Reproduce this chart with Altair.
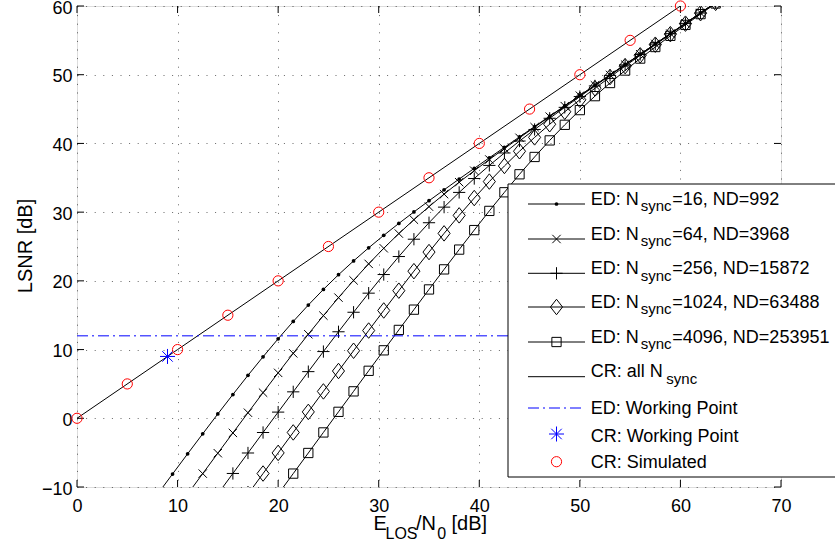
import altair as alt
import pandas as pd

# ---------------- data ----------------
e_los_grid = [8.0, 9.5, 11.0, 12.5, 14.0, 15.5, 17.0, 18.5, 20.0, 21.5, 23.0, 24.5,
              26.0, 27.5, 29.0, 30.5, 32.0, 33.5, 35.0, 36.5, 38.0, 39.5, 41.0, 42.5,
              44.0, 45.5, 47.0, 48.5, 50.0, 51.5, 53.0, 54.5, 56.0, 57.5, 59.0, 60.5,
              62.0, 63.5]

ed_16 = [-11.06, -8.11, -5.17, -2.26, 0.63, 3.46, 6.25, 8.95, 11.57, 14.09, 16.48, 18.75,
         20.89, 22.90, 24.81, 26.62, 28.36, 30.03, 31.66, 33.25, 34.82, 36.37, 37.91, 39.43,
         40.95, 42.46, 43.97, 45.47, 46.98, 48.48, 49.98, 51.49, 52.99, 54.49, 55.99, 57.49,
         58.99, 60.49]
ed_64 = [-11.03, -8.05, -5.08, -2.13, 0.81, 3.73, 6.61, 9.45, 12.23, 14.94, 17.56, 20.07,
         22.47, 24.74, 26.88, 28.90, 30.80, 32.62, 34.36, 36.03, 37.66, 39.25, 40.82, 42.37,
         43.90, 45.43, 46.95, 48.46, 49.97, 51.47, 52.98, 54.48, 55.98, 57.49, 58.99, 60.49]
ed_256 = [-11.02, -8.03, -5.05, -2.07, 0.90, 3.85, 6.79, 9.71, 12.59, 15.43, 18.21, 20.92,
          23.54, 26.06, 28.46, 30.73, 32.87, 34.89, 36.80, 38.61, 40.35, 42.03, 43.66, 45.25,
          46.82, 48.37, 49.90, 51.43, 52.95, 54.46, 55.97, 57.47, 58.98, 60.48]
ed_1024 = [-11.03, -8.04, -5.04, -2.06, 0.93, 3.91, 6.88, 9.83, 12.77, 15.69, 18.57, 21.41,
           24.19, 26.91, 29.53, 32.05, 34.45, 36.72, 38.86, 40.88, 42.79, 44.61, 46.35, 48.03,
           49.66, 51.25, 52.82, 54.37, 55.90, 57.43, 58.95, 60.46]
ed_4096 = [-11.04, -8.05, -5.05, -2.06, 0.94, 3.92, 6.91, 9.89, 12.86, 15.81, 18.75, 21.67,
           24.55, 27.39, 30.18, 32.89, 35.51, 38.03, 40.44, 42.71, 44.85, 46.88, 48.79, 50.61,
           52.35, 54.03, 55.66, 57.25, 58.82, 60.37]

cr_line_x = [0, 10, 20, 30, 40, 50, 60, 70]
cr_line_y = [0, 10, 20, 30, 40, 50, 60, 70]
cr_sim_x = [0, 5, 10, 15, 20, 25, 30, 35, 40, 45, 50, 55, 60]
cr_sim_y = [0, 5, 10, 15, 20, 25, 30, 35, 40, 45, 50, 55, 60]

ed_working_lsnr = [12.0]
cr_working_x = [9.0]
cr_working_y = [9.0]

x_ticks = [0, 10, 20, 30, 40, 50, 60, 70]
y_ticks = [-10, 0, 10, 20, 30, 40, 50, 60]

ed_labels_tail = ["=16, ND=992", "=64, ND=3968", "=256, ND=15872",
                  "=1024, ND=63488", "=4096, ND=253951"]

# ---------------- styling ----------------
FONT = "Liberation Sans"
W, H = 704, 481

XS = alt.Scale(domain=[0, 70], nice=False, zero=False)
YS = alt.Scale(domain=[-10, 60], nice=False, zero=False)

x_axis = alt.Axis(values=x_ticks, title=None, grid=True, ticks=False, domain=False,
                  labelPadding=10, labelFontSize=18, labelFont=FONT, labelColor="black",
                  labelFlush=False, gridColor="black", gridOpacity=0.6,
                  gridDash=[1, 7.6], gridWidth=1)
y_axis = alt.Axis(values=y_ticks, title=None, grid=True, ticks=False, domain=False,
                  labelPadding=5, labelFontSize=18, labelFont=FONT, labelColor="black",
                  labelOffset=2, labelFlush=False,
                  gridColor="black", gridOpacity=0.6, gridDash=[1, 7.6], gridWidth=1)

X = alt.X("x:Q", scale=XS, axis=x_axis)
Y = alt.Y("y:Q", scale=YS, axis=y_axis)

SHAPE_X = "M-1,-1L1,1M-1,1L1,-1"
SHAPE_PLUS = "M-1,0L1,0M0,-1L0,1"
SHAPE_DIAMOND = "M0,-1L0.78,0L0,1L-0.78,0Z"
SHAPE_STAR = "M-1,0L1,0M0,-1L0,1M-0.7,-0.7L0.7,0.7M-0.7,0.7L0.7,-0.7"

ed_series = [
    (ed_16, 0, dict(shape="circle", size=14, filled=True)),
    (ed_64, 2, dict(shape=SHAPE_X, size=70, filled=False)),
    (ed_256, 4, dict(shape=SHAPE_PLUS, size=150, filled=False)),
    (ed_1024, 6, dict(shape=SHAPE_DIAMOND, size=240, filled=False)),
    (ed_4096, 8, dict(shape="square", size=86, filled=False)),
]

layers = []

# inward ticks on all four sides
xt = pd.DataFrame({"x": x_ticks})
yt = pd.DataFrame({"y": y_ticks})
layers.append(alt.Chart(xt).mark_rule(color="black", strokeWidth=1).encode(
    x=X, y=alt.value(H), y2=alt.value(H - 7)))
layers.append(alt.Chart(xt).mark_rule(color="black", strokeWidth=1).encode(
    x=X, y=alt.value(0), y2=alt.value(7)))
layers.append(alt.Chart(yt).mark_rule(color="black", strokeWidth=1).encode(
    y=Y, x=alt.value(0), x2=alt.value(7)))
layers.append(alt.Chart(yt).mark_rule(color="black", strokeWidth=1).encode(
    y=Y, x=alt.value(W), x2=alt.value(W - 7)))

# ED curves
for vals, start, mk in ed_series:
    df = pd.DataFrame({"x": e_los_grid[start:start + len(vals)], "y": vals})
    layers.append(alt.Chart(df).mark_line(color="black", strokeWidth=1, clip=True).encode(x=X, y=Y))
    layers.append(alt.Chart(df).mark_point(color="black", strokeWidth=1, opacity=1,
                                           clip=True, **mk).encode(x=X, y=Y))

# CR line
cr_df = pd.DataFrame({"x": cr_line_x, "y": cr_line_y})
layers.append(alt.Chart(cr_df).mark_line(color="black", strokeWidth=1, clip=True).encode(x=X, y=Y))

# ED working point line
wp_df = pd.DataFrame({"y": ed_working_lsnr})
layers.append(alt.Chart(wp_df).mark_rule(color="#0000FF", strokeWidth=1,
                                         strokeDash=[11, 4, 2, 4]).encode(y=Y))

# CR working point
cwp_df = pd.DataFrame({"x": cr_working_x, "y": cr_working_y})
layers.append(alt.Chart(cwp_df).mark_point(shape=SHAPE_STAR, size=225, color="#0000FF",
                                           strokeWidth=1, opacity=1, filled=False).encode(x=X, y=Y))

# CR simulated
sim_df = pd.DataFrame({"x": cr_sim_x, "y": cr_sim_y})
layers.append(alt.Chart(sim_df).mark_point(shape="circle", size=104, color="#FF0000",
                                           strokeWidth=1, opacity=1,
                                           filled=False).encode(x=X, y=Y))

# ---------------- legend (drawn by hand for subscripts) ----------------
one = pd.DataFrame({"d": [0]})


def txt(s, x, y, size=18, **kw):
    return alt.Chart(one).mark_text(text=s, align="left", baseline="alphabetic",
                                    fontSize=size, font=FONT, color="black", **kw).encode(
        x=alt.value(x), y=alt.value(y))


def seg(y, color="black", dash=None):
    kw = dict(color=color, strokeWidth=1)
    if dash:
        kw["strokeDash"] = dash
    return alt.Chart(one).mark_rule(**kw).encode(
        x=alt.value(451), x2=alt.value(508), y=alt.value(y))


def sym(y, color="black", **mk):
    return alt.Chart(one).mark_point(color=color, strokeWidth=1, opacity=1, **mk).encode(
        x=alt.value(479.5), y=alt.value(y))


layers.append(alt.Chart(one).mark_rect(fill="white", stroke="black", strokeWidth=1).encode(
    x=alt.value(431), x2=alt.value(790), y=alt.value(178), y2=alt.value(471)))

row_y = [198, 233, 267.3, 301, 336, 370.7, 402, 428, 455.7]
for i, (vals, start, mk) in enumerate(ed_series):
    ry = row_y[i]
    layers.append(seg(ry))
    layers.append(sym(ry, **mk))
    layers.append(txt("ED: N", 513.7, ry + 0.5))
    layers.append(txt("sync", 563.7, ry + 7.2, size=15))
    layers.append(txt(ed_labels_tail[i], 595.3, ry + 0.5))

layers.append(seg(row_y[5]))
layers.append(txt("CR: all N", 513.7, row_y[5] + 0.3))
layers.append(txt("sync", 589.3, row_y[5] + 7.0, size=15))

layers.append(seg(row_y[6], color="#0000FF", dash=[11, 4, 2, 4]))
layers.append(txt("ED: Working Point", 513.7, row_y[6] + 6.3))

layers.append(sym(row_y[7], color="#0000FF", shape=SHAPE_STAR, size=225, filled=False))
layers.append(txt("CR: Working Point", 513.7, row_y[7] + 7.7))

layers.append(sym(row_y[8], color="#FF0000", shape="circle", size=104, filled=False))
layers.append(txt("CR: Simulated", 513.7, row_y[8] + 6.6))

# ---------------- axis titles ----------------
layers.append(txt("E", 296.5, 523.5, size=20))
layers.append(txt("LOS", 308.5, 532.5, size=16))
layers.append(txt("/N", 339, 523.5, size=20))
layers.append(txt("0", 360.3, 532.5, size=16))
layers.append(txt("[dB]", 374.5, 523.5, size=20))
layers.append(alt.Chart(one).mark_text(text="LSNR [dB]", align="center", baseline="alphabetic",
                                       fontSize=20, font=FONT, color="black", angle=270).encode(
    x=alt.value(-45), y=alt.value(240)))

chart = alt.layer(*layers).properties(
    width=W, height=H,
    autosize=alt.AutoSizeParams(type="none"),
    padding={"left": 77, "top": 6, "right": 54, "bottom": 62},
).configure_view(stroke="black", strokeWidth=1).configure(background="white")

chart.save("out.html", embed_options={"renderer": "svg", "actions": False})
